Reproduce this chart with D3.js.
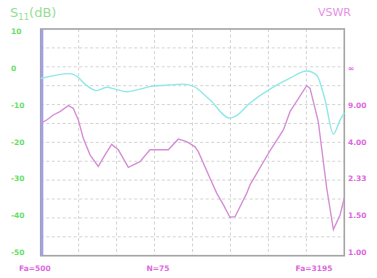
<!DOCTYPE html>
<html><head><meta charset="utf-8">
<script src="https://cdn.jsdelivr.net/npm/d3@7"></script>
<style>
html,body{margin:0;padding:0;background:#fff;}
svg{display:block;font-family:"DejaVu Sans",Arial,sans-serif;}
</style></head>
<body><svg id="c" width="377" height="278"></svg>
<script>
// ---- data ----
const fStart = 500, fStop = 3195, nPoints = 75;
const dbTicks = [10, 0, -10, -20, -30, -40, -50];
const vswrTicks = [1, 1.5, 2.333, 4, 9, Infinity];
const vswrLabels = ["1.00", "1.50", "2.33", "4.00", "9.00", "\u221e"];
// S11 (dB) trace
const s11Freq = [500, 760, 822, 893, 997, 1086, 1160, 1263, 1381, 1497, 1648, 1764, 1852, 2003, 2180, 2234, 2358, 2535, 2713, 2861, 2950, 3024, 3098, 3157, 3195];
const s11Db   = [-3.1, -1.8, -2.5, -4.6, -6.3, -5.4, -5.9, -6.6, -5.9, -5.1, -4.8, -4.6, -5.1, -8.8, -13.6, -13.0, -9.6, -5.9, -3.0, -1.1, -2.2, -8.8, -17.8, -14.1, -12.2];
// VSWR trace
const vswrFreq = [500, 553, 612, 671, 745, 789, 834, 878, 938, 1011, 1071, 1130, 1189, 1278, 1381, 1470, 1633, 1721, 1796, 1870, 1899, 2003, 2062, 2121, 2180, 2225, 2329, 2358, 2535, 2654, 2713, 2861, 2891, 2964, 3039, 3098, 3157, 3195];
const vswrVal  = [5.69, 6.1, 6.84, 7.42, 8.71, 8.1, 6.1, 4.29, 3.29, 2.79, 3.29, 3.87, 3.55, 2.76, 2.98, 3.55, 3.55, 4.22, 4.05, 3.72, 3.45, 2.39, 1.99, 1.74, 1.51, 1.52, 1.99, 2.2, 3.5, 4.98, 7.42, 19, 16.5, 5.88, 2.11, 1.32, 1.55, 1.88];

// ---- layout ----
const svg = d3.select("#c");
const L = 40.7, R = 344.3, T = 29, B = 255.7;
const x = d3.scaleLinear().domain([fStart, fStop]).range([L, R]);
const y = d3.scaleLinear().domain([-50, 10]).range([B, T]);
const yLab = d3.scaleLinear().domain([-50, 10]).range([252.5, 31.5]);
const gam = d3.scaleLinear().domain([0, 1]).range([-50, 0]);
const toGamma = v => v === Infinity ? 1 : (v - 1) / (v + 1);
const yV = v => y(gam(toGamma(v)));
const yVLab = v => yLab(gam(toGamma(v)));

// grid
const g = svg.append("g");
d3.range(-45, 10, 5).forEach(d => {
  g.append("line").attr("x1", L).attr("x2", R).attr("y1", y(d)).attr("y2", y(d))
   .attr("stroke", "#c8c8c8").attr("stroke-width", 0.8).attr("stroke-dasharray", "3,2.5");
});
d3.range(1, 8).map(i => fStart + i * (fStop - fStart) / 8).forEach(f => {
  g.append("line").attr("y1", T).attr("y2", B).attr("x1", x(f)).attr("x2", x(f))
   .attr("stroke", "#c8c8c8").attr("stroke-width", 0.8).attr("stroke-dasharray", "3,2.5");
});

// frame
svg.append("rect").attr("x", L).attr("y", T).attr("width", R - L).attr("height", B - T)
  .attr("fill", "none").attr("stroke", "#a4a4a4").attr("stroke-width", 1.6);

// marker at Fa
svg.append("line").attr("x1", x(fStart) + 1.5).attr("x2", x(fStart) + 1.5).attr("y1", T).attr("y2", B)
  .attr("stroke", "#9f9cf0").attr("stroke-width", 2.2);

// traces
const s11Data = s11Freq.map((f, i) => [f, s11Db[i]]);
const vData = vswrFreq.map((f, i) => [f, vswrVal[i]]);
svg.append("path").datum(s11Data)
  .attr("d", d3.line().x(d => x(d[0])).y(d => y(d[1])).curve(d3.curveMonotoneX))
  .attr("fill", "none").attr("stroke", "#90e8e8").attr("stroke-width", 1.4);
svg.append("path").datum(vData)
  .attr("d", d3.line().x(d => x(d[0])).y(d => yV(d[1])).curve(d3.curveLinear))
  .attr("fill", "none").attr("stroke", "#d68fd6").attr("stroke-width", 1.4);

// left labels
svg.append("g").selectAll("text").data(dbTicks).join("text")
  .attr("x", 11).attr("y", d => yLab(d)).attr("dy", "0.35em")
  .attr("font-size", 7.5).attr("font-weight", "bold").attr("fill", "#66de66")
  .text(d => d);
// right labels
svg.append("g").selectAll("text").data(vswrTicks).join("text")
  .attr("x", 348).attr("y", d => yVLab(d)).attr("dy", "0.35em")
  .attr("font-size", 7.5).attr("font-weight", "bold").attr("fill", "#de66de")
  .text((d, i) => vswrLabels[i]);

// titles
const t1 = svg.append("text").attr("x", 10).attr("y", 17).attr("font-size", 13).attr("fill", "#94de94");
t1.append("tspan").text("S");
t1.append("tspan").attr("font-size", 8.5).attr("dy", 3).text("11");
t1.append("tspan").attr("dy", -3).text("(dB)");
svg.append("text").attr("x", 351).attr("y", 16).attr("text-anchor", "end")
  .attr("font-size", 11).attr("fill", "#e690e6").text("VSWR");

// bottom labels
const bl = svg.append("g").attr("font-size", 7.5).attr("font-weight", "bold").attr("fill", "#e066e0");
bl.append("text").attr("x", 19).attr("y", 271).text("Fa=" + fStart);
bl.append("text").attr("x", 158).attr("y", 271).attr("text-anchor", "middle").text("N=" + nPoints);
bl.append("text").attr("x", 314).attr("y", 271).attr("text-anchor", "middle").text("Fa=" + fStop);
</script></body></html>
